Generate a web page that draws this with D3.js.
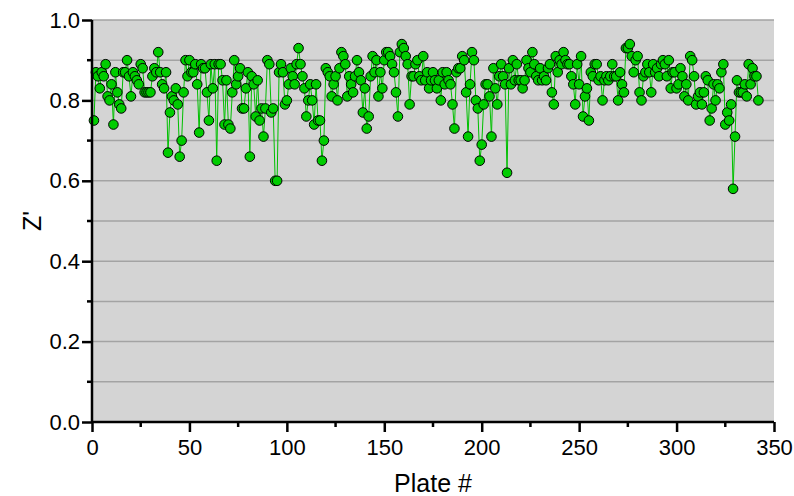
<!DOCTYPE html>
<html>
<head>
<meta charset="utf-8">
<script src="https://cdn.jsdelivr.net/npm/d3@7"></script>
<style>
  body { margin: 0; background: #fff; }
</style>
</head>
<body>
<div id="chart-container"></div>
<script>
// Z' per plate (plate 1 .. 342)
const zValues = [
  0.75,0.87,0.86,0.83,0.87,0.86,0.89,0.81,0.80,0.84,
  0.74,0.87,0.82,0.79,0.78,0.87,0.87,0.90,0.86,0.81,
  0.87,0.86,0.85,0.84,0.89,0.88,0.82,0.82,0.82,0.82,
  0.86,0.88,0.87,0.92,0.87,0.84,0.83,0.87,0.67,0.77,
  0.81,0.80,0.83,0.79,0.66,0.70,0.82,0.90,0.86,0.90,
  0.87,0.87,0.89,0.84,0.72,0.89,0.88,0.88,0.82,0.75,
  0.89,0.83,0.89,0.65,
  0.89,0.89,0.85,0.74,0.85,0.74,0.73,0.82,0.90,0.84,
  0.86,0.88,0.78,0.78,0.83,0.87,0.66,0.86,0.84,0.76,
  0.85,0.75,0.78,0.71,0.78,0.90,0.89,0.77,0.78,0.60,
  0.60,0.87,0.89,
  0.87,0.79,0.80,0.84,0.88,0.86,0.84,0.89,0.93,0.89,
  0.86,0.83,0.76,0.80,0.84,0.80,0.74,0.84,0.75,0.75,
  0.65,0.70,0.88,0.87,0.86,0.81,0.84,0.86,0.80,0.88,
  0.92,0.91,0.89,
  0.81,0.86,0.84,0.82,0.86,0.90,0.87,0.85,0.77,0.83,
  0.73,0.76,0.86,0.91,0.87,0.90,0.81,0.87,0.83,0.90,
  0.92,0.92,0.91,0.89,0.87,0.82,0.76,0.92,0.94,0.93,
  0.91,0.89,0.79,
  0.86,0.86,0.89,0.90,0.86,0.85,0.91,0.85,0.87,0.83,
  0.85,0.87,0.85,0.83,0.85,0.80,0.87,0.84,0.87,0.85,
  0.84,0.79,0.73,0.87,0.88,0.88,0.91,0.90,0.82,0.71,
  0.84,0.92,
  0.90,0.80,0.78,0.65,0.69,0.79,0.84,0.84,0.81,0.71,
  0.88,0.83,0.79,0.86,0.89,0.86,0.84,0.62,0.88,0.84,
  0.90,0.85,0.89,0.85,0.85,0.83,0.85,0.90,0.88,0.87,
  0.92,0.89,
  0.86,0.85,0.88,0.85,0.86,0.85,0.88,0.89,0.82,0.79,
  0.91,0.87,0.90,0.89,0.92,0.90,0.89,0.89,0.86,0.84,
  0.79,0.89,0.84,0.91,0.76,0.81,0.83,0.75,0.87,0.86,
  0.89,0.89,0.85,
  0.86,0.80,0.85,0.86,0.85,0.86,0.89,0.86,0.86,0.80,
  0.87,0.84,0.82,0.93,0.93,0.94,0.91,0.87,0.90,0.91,
  0.82,0.80,0.86,0.87,0.89,0.87,0.82,0.89,0.87,0.88,
  0.86,0.89,0.90,
  0.89,0.86,0.90,0.83,0.87,0.87,0.83,0.84,0.88,0.86,
  0.81,0.84,0.80,0.91,0.90,0.86,0.79,0.81,0.82,0.79,
  0.82,0.86,0.85,0.75,0.78,0.84,0.80,0.84,0.83,0.87,
  0.89,0.74,0.77,
  0.75,0.79,0.58,0.71,0.85,0.82,0.82,0.82,0.84,0.81,
  0.89,0.84,0.88,0.86,0.86,0.80
];
const plates = zValues.map((v, i) => i + 1);

const xTicks = [0, 50, 100, 150, 200, 250, 300, 350];
const xMinorTicks = [25, 75, 125, 175, 225, 275, 325];
const yTicks = [0, 0.2, 0.4, 0.6, 0.8, 1.0];
const yMinorTicks = [0.1, 0.3, 0.5, 0.7, 0.9];
const gridValues = [0.1, 0.2, 0.3, 0.4, 0.5, 0.6, 0.7, 0.8, 0.9, 1.0];

const data = plates.map((p, i) => ({ plate: p, z: zValues[i] }));

const margin = { top: 20, right: 20, bottom: 74, left: 92 };
const width = 774 - margin.left;
const height = 422 - margin.top;
const font = "'Liberation Sans', Arial, sans-serif";

const x = d3.scaleLinear().domain([0, 350]).range([0, width]);
const y = d3.scaleLinear().domain([0, 1]).range([height, 0]);

const svg = d3.select("#chart-container")
  .append("svg")
  .attr("width", 794)
  .attr("height", 496)
  .append("g")
  .attr("transform", `translate(${margin.left},${margin.top})`);

// grey panel
svg.append("rect")
  .attr("x", 0)
  .attr("y", 0)
  .attr("width", width)
  .attr("height", height)
  .attr("fill", "#d4d4d4");

// horizontal gridlines
svg.selectAll(".grid")
  .data(gridValues)
  .join("line")
  .attr("x1", 0)
  .attr("x2", width)
  .attr("y1", d => y(d))
  .attr("y2", d => y(d))
  .attr("stroke", "#a3a3a3")
  .attr("stroke-width", 1.5);

// line + points
const line = d3.line()
  .x(d => x(d.plate))
  .y(d => y(d.z));

svg.append("path")
  .datum(data)
  .attr("fill", "none")
  .attr("stroke", "#00c000")
  .attr("stroke-width", 1)
  .attr("d", line);

svg.selectAll(".pt")
  .data(data)
  .join("circle")
  .attr("cx", d => x(d.plate))
  .attr("cy", d => y(d.z))
  .attr("r", 4.8)
  .attr("fill", "#00cc00")
  .attr("stroke", "#000")
  .attr("stroke-width", 1);

// x axis
const xAxis = svg.append("g")
  .attr("transform", `translate(0,${height})`)
  .call(d3.axisBottom(x).tickValues(xTicks).tickSize(10).tickPadding(7).tickFormat(d3.format("d")));
xAxis.select(".domain").attr("stroke-width", 2.5).attr("d", `M0,0H${width}`);
xAxis.selectAll(".tick line").attr("stroke-width", 2.5);
xAxis.selectAll(".tick text")
  .style("font-family", font)
  .style("font-size", "22px")
  .attr("fill", "#000");
svg.append("g")
  .attr("transform", `translate(0,${height})`)
  .selectAll("line")
  .data(xMinorTicks)
  .join("line")
  .attr("x1", d => x(d))
  .attr("x2", d => x(d))
  .attr("y1", 0)
  .attr("y2", 5)
  .attr("stroke", "#000")
  .attr("stroke-width", 2.5);

// y axis
const yAxis = svg.append("g")
  .call(d3.axisLeft(y).tickValues(yTicks).tickSize(10).tickPadding(2).tickFormat(d3.format(".1f")));
yAxis.select(".domain").attr("stroke-width", 2.5).attr("d", `M0,${height}V0`);
yAxis.selectAll(".tick line").attr("stroke-width", 2.5);
yAxis.selectAll(".tick text")
  .style("font-family", font)
  .style("font-size", "22px")
  .attr("fill", "#000");
svg.append("g")
  .selectAll("line")
  .data(yMinorTicks)
  .join("line")
  .attr("x1", -5)
  .attr("x2", 0)
  .attr("y1", d => y(d))
  .attr("y2", d => y(d))
  .attr("stroke", "#000")
  .attr("stroke-width", 2.5);

// axis titles
svg.append("text")
  .attr("x", x(175))
  .attr("y", height + 70)
  .style("text-anchor", "middle")
  .style("font-family", font)
  .style("font-size", "25px")
  .text("Plate #");

svg.append("text")
  .attr("transform", `translate(${-51},${height / 2}) rotate(-90)`)
  .style("text-anchor", "middle")
  .style("font-family", font)
  .style("font-size", "25px")
  .text("Z'");
</script>
</body>
</html>
